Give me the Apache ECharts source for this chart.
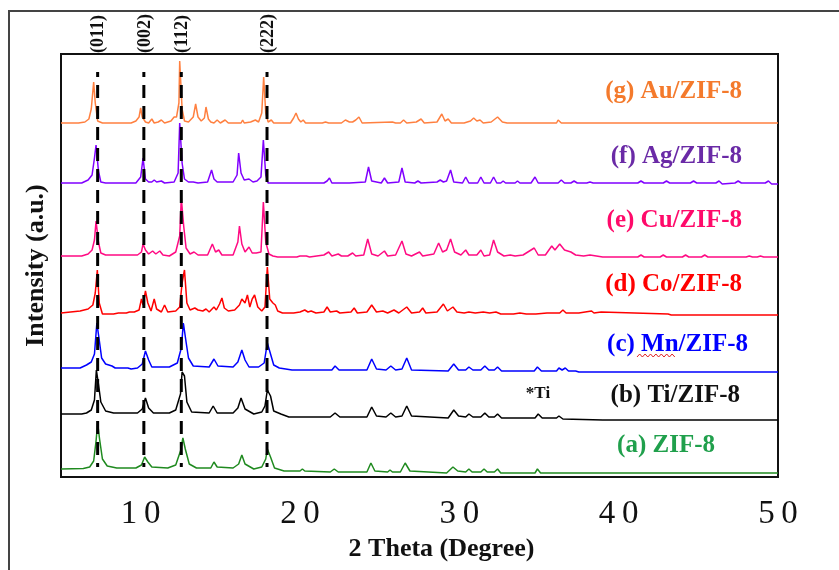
<!DOCTYPE html>
<html>
<head>
<meta charset="utf-8">
<script src="https://cdn.jsdelivr.net/npm/echarts@6/dist/echarts.min.js"></script>
<style>
  html, body { margin: 0; padding: 0; background: #fff; }
  #chart { width: 839px; height: 570px; }
</style>
</head>
<body>
<div id="chart"></div>
<script>
// XRD patterns, each trace given as [2theta, intensity above its own baseline]
const xTicks = [10, 20, 30, 40, 50];
const sampleNames = ['(a) ZIF-8', '(b) Ti/ZIF-8', '(c) Mn/ZIF-8', '(d) Co/ZIF-8', '(e) Cu/ZIF-8', '(f) Ag/ZIF-8', '(g) Au/ZIF-8'];
const baseOffsets = [8, 63, 109, 164, 221, 294, 354];
const hklPos = [7.3, 10.2, 12.55, 17.93];
const hklLabels = ['(011)', '(002)', '(112)', '(222)'];
const dashRange = [10, 405];

const zif8 = [[5,0],[6.4,0.5],[6.8,2],[7.05,8],[7.2,28],[7.3,46],[7.42,30],[7.6,10],[7.9,3],[8.5,1],[9.7,1],[10.05,4],[10.25,12],[10.45,7],[10.7,2],[11.7,1],[12.2,4],[12.5,18],[12.65,31],[12.8,20],[13.05,5],[13.5,1],[14.4,1],[14.6,7],[14.8,2],[15.8,1],[16.15,5],[16.35,14],[16.55,5],[17.1,0],[17.6,2],[17.85,10],[17.95,20],[18.15,12],[18.4,1],[19.0,-2],[20.0,-2],[20.15,0],[20.3,-2],[21.9,-3],[22.15,0],[22.4,-3],[24.2,-3],[24.45,6],[24.7,-2],[25.5,-3],[25.65,-1],[25.8,-3],[26.3,-3],[26.6,6],[26.9,-2],[29.2,-4],[29.6,2],[29.9,-2],[30.4,-3],[30.6,0],[30.8,-3],[31.35,-3],[31.55,0],[31.75,-3],[32.2,-3],[32.4,0],[32.6,-4],[34.2,-4],[34.3,-2],[34.45,-4],[34.75,-4],[34.9,0],[35.1,-4],[36.5,-4],[36.6,-2],[36.75,-4],[40.6,-4],[40.7,-6],[40.9,-4],[47.5,-4],[47.6,-6],[47.7,-4],[48.8,-4],[48.9,-6],[49,-4],[50,-4]];

const tiZif8 = [[5,0],[6.1,0],[6.2,-1.5],[6.3,0],[6.6,1],[6.9,4],[7.1,14],[7.22,44],[7.35,30],[7.5,12],[7.8,3],[8.3,1],[9.8,1],[10.1,5],[10.3,16],[10.5,6],[10.8,1],[11.8,1],[12.2,4],[12.5,20],[12.6,42],[12.75,38],[12.9,12],[13.2,2],[14.3,1],[14.55,8],[14.8,1],[15.8,1],[16.1,6],[16.3,16],[16.55,5],[17.1,0],[17.6,2],[17.8,8],[17.95,24],[18.15,18],[18.35,3],[18.8,0],[19.3,-3],[21.9,-3],[22.2,1],[22.5,-3],[24.2,-3],[24.5,7],[24.8,-2],[25.4,-3],[25.7,1],[26.0,-3],[26.4,-2],[26.7,8],[27.0,-2],[29.3,-4],[29.65,4],[29.95,-2],[30.4,-3],[30.6,0],[30.85,-3],[31.35,-3],[31.6,1],[31.85,-3],[32.2,-3],[32.4,0],[32.65,-4],[34.2,-4],[34.3,-2],[34.45,-4],[34.75,-4],[34.95,0],[35.2,-4],[36.1,-4],[36.25,-2],[36.5,-5],[39.0,-6],[39.05,-4],[39.15,-6],[41.7,-6],[41.8,-4],[41.9,-6],[43.1,-6],[43.2,-4],[43.3,-6],[46.5,-6],[46.55,-4],[46.65,-6],[50,-6]];

const mnZif8 = [[5,0],[6.2,0],[6.3,2],[6.6,3],[6.9,6],[7.1,14],[7.25,45],[7.4,28],[7.55,10],[7.8,4],[8.2,2],[8.4,0],[9.2,0],[9.4,-1],[9.8,0],[10.1,4],[10.3,17],[10.5,8],[10.7,1],[11.8,1],[12.3,5],[12.55,20],[12.68,45],[12.85,26],[13.0,10],[13.3,2],[14.3,1],[14.6,9],[14.85,2],[15.8,1],[16.1,6],[16.35,18],[16.55,8],[16.8,1],[17.4,1],[17.75,5],[17.95,25],[18.15,14],[18.35,3],[18.7,0],[19.1,-1],[19.5,-2],[22.0,-2],[22.2,2],[22.45,-2],[24.2,-2],[24.5,9],[24.8,-1],[25.4,-2],[25.7,2],[26.0,-2],[26.4,-1],[26.7,10],[27.0,-2],[29.3,-3],[29.65,4],[29.95,-2],[30.4,-2],[30.6,1],[30.85,-2],[31.35,-2],[31.6,2],[31.85,-2],[32.2,-2],[32.4,1],[32.65,-3],[33.6,-3],[33.7,-5],[33.85,-3],[34.7,-3],[34.9,1],[35.15,-3],[36.1,-3],[36.25,0],[36.45,-2],[36.65,0],[36.85,-3],[37.3,-3],[37.4,-1],[37.5,-4],[39.0,-4],[39.05,-2],[39.15,-4],[41.7,-4],[41.8,-2],[41.9,-4],[50,-4]];

const coZif8 = [[5,0],[5.6,1],[6.2,2],[6.7,4],[7.0,8],[7.15,20],[7.28,43],[7.4,10],[7.6,-1],[8.3,-1],[8.6,0],[9.1,0],[9.3,1],[9.6,1],[9.9,3],[10.05,14],[10.15,8],[10.3,22],[10.45,10],[10.65,2],[10.85,14],[11.0,4],[11.3,1],[11.5,8],[11.7,1],[12.2,2],[12.45,6],[12.6,30],[12.75,43],[12.9,10],[13.1,3],[13.4,5],[13.6,3],[13.9,2],[14.1,4],[14.3,1],[14.6,6],[14.75,3],[14.95,9],[15.1,15],[15.25,5],[15.5,2],[15.9,3],[16.2,8],[16.35,14],[16.55,10],[16.7,18],[16.85,6],[17.0,14],[17.15,18],[17.35,6],[17.6,2],[17.8,6],[17.95,46],[18.1,14],[18.3,10],[18.45,8],[18.6,2],[18.9,0],[19.6,0],[20.0,1],[20.3,3],[20.5,1],[20.7,2],[21.0,0],[21.5,1],[21.7,6],[21.9,1],[22.3,2],[22.5,0],[23.2,1],[23.4,5],[23.6,0],[24.2,1],[24.5,8],[24.8,1],[25.2,2],[25.5,0],[25.9,3],[26.2,0],[26.7,6],[27.0,0],[27.5,1],[27.7,5],[27.9,0],[28.6,1],[29.0,9],[29.25,2],[29.6,6],[29.85,1],[30.3,0],[30.6,1],[31.0,0],[31.5,1],[31.9,0],[32.3,1],[32.6,-1],[33.4,-1],[33.8,0],[34.2,-1],[34.8,-1],[35.5,0],[36.3,0],[36.5,3],[36.7,0],[37.5,0],[38.3,2],[38.45,0],[38.9,1],[39.0,-1],[43.1,-1],[43.2,1],[43.3,-2],[47.8,-2],[47.9,0],[48.0,-2],[49.0,-2],[49.1,0],[49.2,-2],[50,-2]];

const cuZif8 = [[5,0],[6.3,0],[6.7,2],[6.95,6],[7.1,16],[7.2,35],[7.35,14],[7.5,3],[7.8,1],[9.8,1],[10.05,4],[10.15,12],[10.3,6],[10.5,2],[10.75,5],[10.95,2],[11.2,5],[11.4,1],[11.8,0],[12.2,4],[12.45,20],[12.55,58],[12.7,30],[12.85,8],[13.1,2],[13.35,4],[13.6,1],[14.2,1],[14.5,12],[14.7,4],[14.9,6],[15.1,1],[15.8,1],[16.1,14],[16.2,30],[16.35,12],[16.55,4],[16.8,9],[17.0,3],[17.25,3],[17.55,4],[17.7,54],[17.85,14],[18.05,2],[18.3,0],[18.6,-1],[19.8,-1],[20.0,0],[20.4,0],[20.6,-1],[21.5,1],[21.8,4],[22.0,0],[22.4,2],[22.6,0],[23.0,0],[23.3,3],[23.5,0],[24.0,1],[24.25,17],[24.5,2],[24.9,0],[25.3,5],[25.5,0],[26.0,1],[26.4,15],[26.65,2],[27.0,0],[27.5,4],[27.7,0],[28.4,2],[28.7,13],[28.95,4],[29.2,6],[29.45,17],[29.7,4],[30.1,1],[30.4,6],[30.6,1],[31.1,1],[31.35,6],[31.55,0],[31.9,1],[32.15,16],[32.4,4],[32.8,0],[33.2,1],[33.5,0],[34.0,1],[34.7,8],[34.95,1],[35.4,1],[35.8,10],[36.0,6],[36.3,12],[36.6,6],[37.0,4],[37.3,1],[37.8,0],[38.2,1],[39.0,-1],[41.2,-1],[41.4,1],[41.6,-1],[42.6,-1],[42.8,1],[43.0,-1],[44.0,-1],[44.2,1],[44.4,-1],[45.2,-1],[45.4,1],[45.6,-1],[48.0,-1],[48.2,0],[48.4,-1],[48.7,-1],[48.9,0],[49.1,-1],[50,-1]];

const agZif8 = [[5,0],[6.3,0],[6.7,3],[6.95,8],[7.1,25],[7.2,38],[7.35,12],[7.5,1],[7.8,0],[9.7,0],[10.0,6],[10.15,25],[10.3,4],[10.5,1],[10.7,1],[10.85,3],[11.0,1],[11.3,2],[11.5,0],[12.1,1],[12.35,10],[12.45,60],[12.6,20],[12.75,4],[13.0,1],[13.3,1],[13.6,0],[14.2,1],[14.45,13],[14.6,4],[14.8,1],[15.8,1],[16.05,8],[16.15,30],[16.3,10],[16.5,3],[16.8,4],[17.05,1],[17.3,2],[17.55,6],[17.7,43],[17.85,8],[18.0,0],[18.6,0],[19.5,0],[19.6,2],[19.7,0],[21.5,0],[21.7,2],[21.85,5],[22.0,0],[22.9,0],[23.0,1],[23.1,0],[24.1,1],[24.3,16],[24.5,2],[25.1,0],[25.3,5],[25.5,0],[26.2,1],[26.4,15],[26.6,1],[27.2,0],[27.4,2],[27.6,0],[28.6,1],[28.8,3],[29.0,1],[29.2,2],[29.45,13],[29.65,1],[30.2,0],[30.4,6],[30.6,0],[31.15,0],[31.35,6],[31.55,0],[31.95,0],[32.15,6],[32.35,0],[32.6,0],[32.75,2],[32.9,0],[33.5,0],[33.65,2],[33.8,0],[34.5,0],[34.75,6],[34.95,0],[35.4,0],[35.5,1],[35.6,0],[36.2,0],[36.4,3],[36.6,0],[37.0,0],[37.2,2],[37.4,0],[38.0,0],[38.2,1],[38.4,0],[41.2,0],[41.4,2],[41.6,0],[42.8,0],[43.0,2],[43.2,0],[44.5,0],[44.7,2],[44.9,0],[46.1,0],[46.3,2],[46.5,-1],[47.3,0],[47.5,2],[47.7,0],[49.2,0],[49.4,2],[49.6,-1],[50,-1]];

const auZif8 = [[5,0],[6.1,0],[6.5,1],[6.75,4],[6.9,14],[7.05,41],[7.15,20],[7.3,2],[7.6,0],[9.4,0],[9.7,2],[9.9,6],[10.0,15],[10.1,6],[10.3,1],[10.5,0],[10.7,4],[10.85,0],[11.1,1],[11.3,3],[11.5,0],[11.9,2],[12.1,6],[12.25,6],[12.4,20],[12.45,62],[12.6,14],[12.75,2],[13.0,1],[13.3,6],[13.45,19],[13.6,6],[13.8,2],[14.0,5],[14.1,16],[14.25,4],[14.4,1],[14.6,0],[14.8,3],[15.0,0],[15.3,3],[15.5,0],[16.3,0],[16.4,3],[16.5,0],[16.9,1],[17.2,3],[17.4,1],[17.6,10],[17.72,46],[17.85,10],[18.0,1],[18.2,3],[18.35,0],[19.4,0],[19.6,5],[19.75,10],[19.9,4],[20.05,1],[20.2,3],[20.35,0],[20.5,0],[20.6,2],[20.75,0],[21.4,0],[21.6,1],[21.8,0],[22.6,0],[22.85,3],[23.1,1],[23.3,1],[23.5,3],[23.7,6],[23.9,0],[25.8,1],[26.0,0],[26.3,0],[26.5,3],[26.7,0],[27.3,1],[27.6,4],[27.8,0],[28.6,1],[28.9,9],[29.1,2],[29.3,4],[29.5,0],[30.3,0],[30.7,2],[30.9,5],[31.1,2],[31.3,3],[31.5,0],[32.0,1],[32.4,6],[32.7,1],[33.0,0],[34.5,0],[34.6,1],[34.7,0],[35.3,0],[35.4,1],[35.5,0],[36.1,0],[36.2,3],[36.4,0],[38.0,0],[38.1,1],[38.2,0],[40.5,0],[40.6,1],[40.7,0],[41.9,0],[42.0,1],[42.1,0],[42.9,0],[43.0,1],[43.1,0],[44.0,0],[44.1,1],[44.2,0],[46.5,0],[46.6,1],[46.7,0],[48.8,0],[48.9,1],[49.0,0],[50,0]];

const traces = [zif8, tiZif8, mnZif8, coZif8, cuZif8, agZif8, auZif8];
const lineColors = ['#1f8a1f', '#000000', '#0000ff', '#ff0000', '#ff0a82', '#8000ff', '#ff8040'];
const textColors = ['#20a04c', '#111111', '#0000ff', '#ff0000', '#ff0a6a', '#6a2aa6', '#f47a2c'];
// label anchors (right edge / middle) in pixels
const labelPos = [[715, 446], [740, 396], [748, 345], [742, 285], [742, 221], [742, 157], [742, 92]];

const SERIF = '"Liberation Serif", "DejaVu Serif", serif';
const chart = echarts.init(document.getElementById('chart'));

const traceSeries = traces.map((pts, i) => ({
  name: sampleNames[i],
  type: 'line',
  data: pts.map(p => [p[0], p[1] + baseOffsets[i]]),
  symbol: 'none',
  lineStyle: { color: lineColors[i], width: 1.5 },
  z: 2,
}));

const dashSeries = hklPos.map(x => ({
  type: 'line',
  data: [[x, dashRange[1]], [x, dashRange[0]]],
  symbol: 'none',
  lineStyle: { color: '#000', width: 3, type: [13, 8], dashOffset: 8 },
  z: 5,
}));

chart.setOption({
  animation: false,
  backgroundColor: '#fff',
  grid: { left: 61, right: 61, top: 54, bottom: 93, show: true, borderColor: '#111', borderWidth: 2 },
  xAxis: {
    type: 'value',
    min: 5,
    max: 50,
    name: '2 Theta (Degree)',
    nameLocation: 'middle',
    nameGap: 58,
    nameTextStyle: { fontFamily: SERIF, fontWeight: 'bold', fontSize: 26, color: '#111', padding: [0, 0, 0, 44] },
    axisLine: { show: false },
    axisTick: { show: false },
    splitLine: { show: false },
    axisLabel: {
      customValues: xTicks,
      margin: 21,
      fontFamily: SERIF,
      fontSize: 33,
      color: '#111',
      formatter: v => String(v).split('').join('\u2009'),
    },
  },
  yAxis: {
    type: 'value',
    min: 0,
    max: 423,
    name: 'Intensity (a.u.)',
    nameLocation: 'middle',
    nameGap: 12,
    nameTextStyle: { fontFamily: SERIF, fontWeight: 'bold', fontSize: 26, color: '#111' },
    axisLine: { show: false },
    axisTick: { show: false },
    axisLabel: { show: false },
    splitLine: { show: false },
  },
  series: traceSeries.concat(dashSeries),
});

const graphics = [
  { type: 'rect', shape: { x: 9, y: 11, width: 900, height: 700 }, style: { fill: 'none', stroke: '#444', lineWidth: 2 }, silent: true },
];

hklPos.forEach((x, i) => {
  const p = chart.convertToPixel({ gridIndex: 0 }, [x, dashRange[1]]);
  graphics.push({
    type: 'text',
    x: p[0] + 1,
    y: 53,
    rotation: Math.PI / 2,
    style: { text: hklLabels[i], font: 'bold 18px ' + SERIF, fill: '#111', align: 'left', verticalAlign: 'middle' },
  });
});

sampleNames.forEach((name, i) => {
  graphics.push({
    type: 'text',
    x: labelPos[i][0],
    y: labelPos[i][1],
    style: { text: name, font: 'bold 25px ' + SERIF, fill: textColors[i], align: 'right', verticalAlign: 'middle' },
  });
});

graphics.push({
  type: 'text', x: 538, y: 394,
  style: { text: '*Ti', font: 'bold 17px ' + SERIF, fill: '#111', align: 'center', verticalAlign: 'middle' },
});

// red wavy underline under "Mn"
const wave = [];
for (let k = 0; k <= 14; k++) wave.push([637 + k * 2.7, k % 2 ? 354 : 357]);
graphics.push({ type: 'polyline', shape: { points: wave }, style: { stroke: '#e02020', lineWidth: 1, fill: 'none' } });

chart.setOption({ graphic: graphics });
</script>
</body>
</html>
